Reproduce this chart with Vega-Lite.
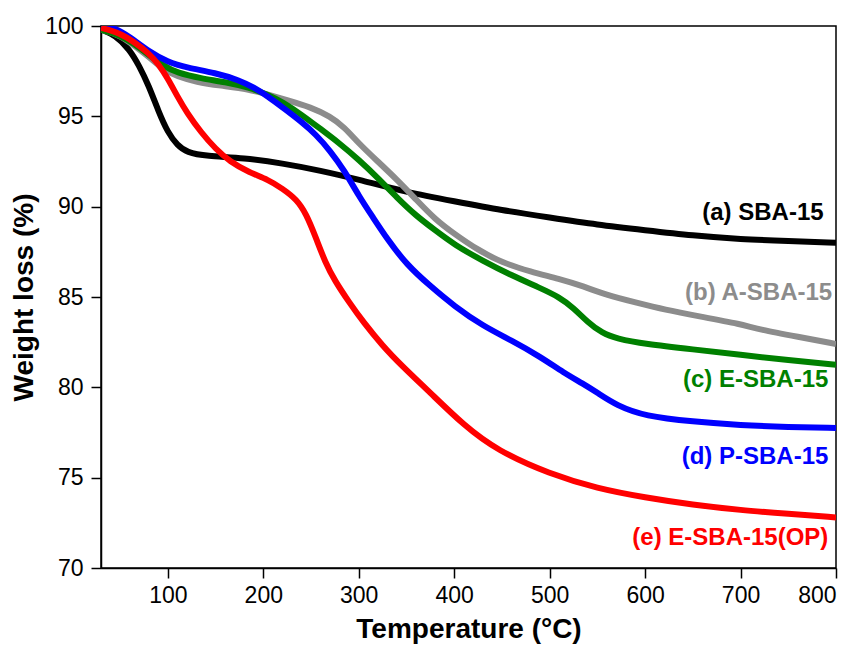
{
  "$schema": "https://vega.github.io/schema/vega-lite/v6.json",
  "width": 735,
  "height": 542,
  "autosize": {"type": "none"},
  "padding": {"left": 101, "top": 26, "right": 26, "bottom": 84},
  "background": "white",
  "config": {
    "view": {"stroke": "black", "strokeWidth": 1.5},
    "axis": {
      "grid": false,
      "domainColor": "black",
      "domainWidth": 1.5,
      "tickColor": "black",
      "tickWidth": 1.5,
      "tickSize": 10,
      "labelFont": "Liberation Sans",
      "labelFontSize": 23,
      "labelColor": "black",
      "titleFont": "Liberation Sans",
      "titleFontSize": 28,
      "titleFontWeight": "bold",
      "titleColor": "black"
    }
  },
  "datasets": {
    "curves": [
      {"s": "a", "T": 30, "W": 99.8}, {"s": "a", "T": 45, "W": 99.5}, {"s": "a", "T": 60, "W": 98.7}, {"s": "a", "T": 70, "W": 97.8}, {"s": "a", "T": 80, "W": 96.7}, {"s": "a", "T": 90, "W": 95.3}, {"s": "a", "T": 100, "W": 94.1}, {"s": "a", "T": 110, "W": 93.4}, {"s": "a", "T": 120, "W": 93.0}, {"s": "a", "T": 140, "W": 92.8}, {"s": "a", "T": 180, "W": 92.7}, {"s": "a", "T": 220, "W": 92.4}, {"s": "a", "T": 260, "W": 92.0}, {"s": "a", "T": 300, "W": 91.5}, {"s": "a", "T": 350, "W": 90.8}, {"s": "a", "T": 400, "W": 90.3}, {"s": "a", "T": 450, "W": 89.8}, {"s": "a", "T": 500, "W": 89.4}, {"s": "a", "T": 550, "W": 89.0}, {"s": "a", "T": 600, "W": 88.7}, {"s": "a", "T": 650, "W": 88.4}, {"s": "a", "T": 700, "W": 88.2}, {"s": "a", "T": 750, "W": 88.1}, {"s": "a", "T": 800, "W": 88.0},

      {"s": "b", "T": 30, "W": 99.8}, {"s": "b", "T": 50, "W": 99.5}, {"s": "b", "T": 65, "W": 98.9}, {"s": "b", "T": 80, "W": 98.3}, {"s": "b", "T": 95, "W": 97.6}, {"s": "b", "T": 110, "W": 97.2}, {"s": "b", "T": 130, "W": 96.9}, {"s": "b", "T": 155, "W": 96.7}, {"s": "b", "T": 185, "W": 96.5}, {"s": "b", "T": 205, "W": 96.2}, {"s": "b", "T": 225, "W": 95.9}, {"s": "b", "T": 250, "W": 95.5}, {"s": "b", "T": 270, "W": 95.0}, {"s": "b", "T": 285, "W": 94.4}, {"s": "b", "T": 300, "W": 93.5}, {"s": "b", "T": 320, "W": 92.5}, {"s": "b", "T": 340, "W": 91.5}, {"s": "b", "T": 360, "W": 90.4}, {"s": "b", "T": 380, "W": 89.3}, {"s": "b", "T": 400, "W": 88.5}, {"s": "b", "T": 425, "W": 87.6}, {"s": "b", "T": 450, "W": 86.9}, {"s": "b", "T": 480, "W": 86.4}, {"s": "b", "T": 510, "W": 86.0}, {"s": "b", "T": 535, "W": 85.6}, {"s": "b", "T": 560, "W": 85.1}, {"s": "b", "T": 590, "W": 84.7}, {"s": "b", "T": 620, "W": 84.3}, {"s": "b", "T": 660, "W": 83.9}, {"s": "b", "T": 700, "W": 83.5}, {"s": "b", "T": 720, "W": 83.2}, {"s": "b", "T": 760, "W": 82.8}, {"s": "b", "T": 800, "W": 82.4},

      {"s": "c", "T": 30, "W": 99.8}, {"s": "c", "T": 50, "W": 99.5}, {"s": "c", "T": 65, "W": 99.0}, {"s": "c", "T": 80, "W": 98.4}, {"s": "c", "T": 95, "W": 97.8}, {"s": "c", "T": 110, "W": 97.4}, {"s": "c", "T": 135, "W": 97.1}, {"s": "c", "T": 160, "W": 96.9}, {"s": "c", "T": 185, "W": 96.6}, {"s": "c", "T": 205, "W": 96.2}, {"s": "c", "T": 220, "W": 95.8}, {"s": "c", "T": 240, "W": 95.1}, {"s": "c", "T": 260, "W": 94.3}, {"s": "c", "T": 280, "W": 93.5}, {"s": "c", "T": 300, "W": 92.6}, {"s": "c", "T": 320, "W": 91.6}, {"s": "c", "T": 340, "W": 90.5}, {"s": "c", "T": 360, "W": 89.5}, {"s": "c", "T": 380, "W": 88.7}, {"s": "c", "T": 400, "W": 87.9}, {"s": "c", "T": 430, "W": 87.0}, {"s": "c", "T": 460, "W": 86.2}, {"s": "c", "T": 490, "W": 85.5}, {"s": "c", "T": 510, "W": 85.0}, {"s": "c", "T": 525, "W": 84.4}, {"s": "c", "T": 540, "W": 83.6}, {"s": "c", "T": 555, "W": 83.0}, {"s": "c", "T": 570, "W": 82.7}, {"s": "c", "T": 600, "W": 82.4}, {"s": "c", "T": 650, "W": 82.1}, {"s": "c", "T": 700, "W": 81.8}, {"s": "c", "T": 750, "W": 81.5}, {"s": "c", "T": 800, "W": 81.25},

      {"s": "d", "T": 30, "W": 100.0}, {"s": "d", "T": 45, "W": 99.9}, {"s": "d", "T": 60, "W": 99.4}, {"s": "d", "T": 80, "W": 98.6}, {"s": "d", "T": 100, "W": 98.0}, {"s": "d", "T": 120, "W": 97.7}, {"s": "d", "T": 150, "W": 97.4}, {"s": "d", "T": 175, "W": 97.0}, {"s": "d", "T": 190, "W": 96.6}, {"s": "d", "T": 205, "W": 96.1}, {"s": "d", "T": 220, "W": 95.5}, {"s": "d", "T": 240, "W": 94.7}, {"s": "d", "T": 255, "W": 94.0}, {"s": "d", "T": 270, "W": 93.1}, {"s": "d", "T": 285, "W": 92.0}, {"s": "d", "T": 300, "W": 90.6}, {"s": "d", "T": 315, "W": 89.4}, {"s": "d", "T": 330, "W": 88.2}, {"s": "d", "T": 350, "W": 86.8}, {"s": "d", "T": 375, "W": 85.6}, {"s": "d", "T": 400, "W": 84.5}, {"s": "d", "T": 430, "W": 83.4}, {"s": "d", "T": 460, "W": 82.6}, {"s": "d", "T": 490, "W": 81.7}, {"s": "d", "T": 515, "W": 80.8}, {"s": "d", "T": 535, "W": 80.2}, {"s": "d", "T": 550, "W": 79.7}, {"s": "d", "T": 570, "W": 79.0}, {"s": "d", "T": 600, "W": 78.4}, {"s": "d", "T": 650, "W": 78.1}, {"s": "d", "T": 700, "W": 77.9}, {"s": "d", "T": 750, "W": 77.8}, {"s": "d", "T": 800, "W": 77.75},

      {"s": "e", "T": 30, "W": 99.9}, {"s": "e", "T": 50, "W": 99.6}, {"s": "e", "T": 65, "W": 99.1}, {"s": "e", "T": 80, "W": 98.5}, {"s": "e", "T": 90, "W": 97.9}, {"s": "e", "T": 100, "W": 97.1}, {"s": "e", "T": 110, "W": 96.1}, {"s": "e", "T": 120, "W": 95.2}, {"s": "e", "T": 135, "W": 94.1}, {"s": "e", "T": 150, "W": 93.2}, {"s": "e", "T": 165, "W": 92.5}, {"s": "e", "T": 185, "W": 91.9}, {"s": "e", "T": 205, "W": 91.5}, {"s": "e", "T": 220, "W": 91.0}, {"s": "e", "T": 235, "W": 90.4}, {"s": "e", "T": 245, "W": 89.6}, {"s": "e", "T": 255, "W": 88.3}, {"s": "e", "T": 265, "W": 86.9}, {"s": "e", "T": 275, "W": 85.9}, {"s": "e", "T": 290, "W": 84.7}, {"s": "e", "T": 305, "W": 83.6}, {"s": "e", "T": 325, "W": 82.3}, {"s": "e", "T": 345, "W": 81.2}, {"s": "e", "T": 375, "W": 79.7}, {"s": "e", "T": 410, "W": 77.9}, {"s": "e", "T": 445, "W": 76.5}, {"s": "e", "T": 500, "W": 75.2}, {"s": "e", "T": 550, "W": 74.4}, {"s": "e", "T": 600, "W": 73.9}, {"s": "e", "T": 650, "W": 73.5}, {"s": "e", "T": 700, "W": 73.2}, {"s": "e", "T": 750, "W": 73.0}, {"s": "e", "T": 800, "W": 72.8}
    ],
    "labels": [
      {"s": "a", "T": 787, "W": 89.65, "label": "(a) SBA-15"},
      {"s": "b", "T": 796, "W": 85.22, "label": "(b) A-SBA-15"},
      {"s": "c", "T": 792, "W": 80.41, "label": "(c) E-SBA-15"},
      {"s": "d", "T": 792, "W": 76.15, "label": "(d) P-SBA-15"},
      {"s": "e", "T": 792, "W": 71.67, "label": "(e) E-SBA-15(OP)"}
    ]
  },
  "layer": [
    {
      "data": {"name": "curves"},
      "mark": {"type": "line", "strokeWidth": 6, "interpolate": "basis", "clip": true},
      "encoding": {
        "x": {
          "field": "T", "type": "quantitative",
          "scale": {"domain": [30, 800], "nice": false, "zero": false},
          "axis": {"title": "Temperature (°C)", "values": [100, 200, 300, 400, 500, 600, 700, 800], "labelPadding": 6, "titlePadding": 8}
        },
        "y": {
          "field": "W", "type": "quantitative",
          "scale": {"domain": [70, 100], "nice": false, "zero": false},
          "axis": {"title": "Weight loss (%)", "values": [70, 75, 80, 85, 90, 95, 100], "labelPadding": 8, "titlePadding": 6}
        },
        "color": {
          "field": "s", "type": "nominal",
          "scale": {"domain": ["a", "b", "c", "d", "e"], "range": ["#000000", "#8c8c8c", "#008000", "#0000ff", "#ff0000"]},
          "legend": null
        },
        "order": {"field": "T", "type": "quantitative"}
      }
    },
    {
      "data": {"name": "labels"},
      "mark": {"type": "text", "align": "right", "baseline": "middle", "font": "Liberation Sans", "fontSize": 24, "fontWeight": "bold"},
      "encoding": {
        "x": {"field": "T", "type": "quantitative"},
        "y": {"field": "W", "type": "quantitative"},
        "text": {"field": "label"},
        "color": {"field": "s", "type": "nominal", "legend": null}
      }
    }
  ]
}
